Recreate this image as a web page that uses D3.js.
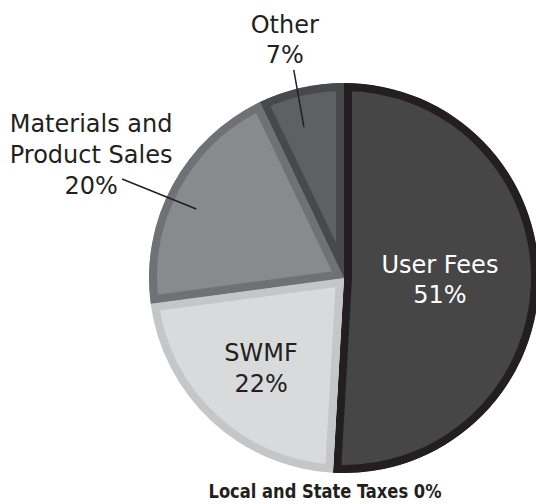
<!DOCTYPE html>
<html>
<head>
<meta charset="utf-8">
<script src="https://cdn.jsdelivr.net/npm/d3@7"></script>
<style>
  html, body { margin: 0; padding: 0; background: #fff; }
  svg { display: block; }
</style>
</head>
<body>
<svg id="chart" width="536" height="504"></svg>
<script>
// ---- data ----
const categories = ["User Fees", "SWMF", "Materials and Product Sales", "Other", "Local and State Taxes"];
const values = [50.9, 22.0, 20.0, 7.1, 0];
const percentLabels = ["51%", "22%", "20%", "7%", "0%"];

// ---- styles ----
const fills   = ["#464646", "#d9dadc", "#898a8d", "#5f6064", "#000"];
const borders = ["#231f20", "#c5c6c8", "#707174", "#48494c", "#000"];
const ink = "#231f20";

const svg = d3.select("#chart");
const cx = 344, cy = 278, R = 195;
const g = svg.append("g").attr("transform", `translate(${cx},${cy})`);

const data = categories.map((c, i) => ({ name: c, value: values[i], pct: percentLabels[i], i }));
const pie = d3.pie().sort(null).value(d => d.value).startAngle(0).endAngle(2 * Math.PI);
const arcs = pie(data);
const arc = d3.arc().innerRadius(0).outerRadius(R);

const defs = svg.append("defs");
arcs.filter(a => a.data.value > 0).forEach(a => {
  defs.append("clipPath").attr("id", "clip" + a.index)
    .append("path").attr("d", arc(a));
});

g.selectAll("path.slice")
  .data(arcs.filter(a => a.data.value > 0))
  .join("path")
  .attr("class", "slice")
  .attr("d", arc)
  .attr("fill", a => fills[a.index])
  .attr("stroke", a => borders[a.index])
  .attr("stroke-width", 16)
  .attr("stroke-linejoin", "miter")
  .attr("clip-path", a => `url(#clip${a.index})`);

const polar = (ang, r) => [r * Math.sin(ang), -r * Math.cos(ang)];
const mid = a => (a.startAngle + a.endAngle) / 2;
const deg = Math.PI / 180;

const font = "'DejaVu Sans', sans-serif";

function multiLine(sel, x, y, lines, color, lh) {
  const t = sel.append("text")
    .attr("text-anchor", "middle")
    .attr("font-family", font)
    .attr("font-size", 24)
    .attr("fill", color);
  lines.forEach((ln, k) => {
    t.append("tspan").attr("x", x).attr("y", y + k * lh).text(ln);
  });
}

// inside labels
const aUser = arcs[0];
const pU = polar(mid(aUser), 96);
multiLine(g, pU[0], pU[1] - 8, [aUser.data.name, aUser.data.pct], "#ffffff", 30);

const aSw = arcs[1];
const pS = polar(mid(aSw), 122);
multiLine(g, pS[0], pS[1] - 6, [aSw.data.name, aSw.data.pct], ink, 31);

// outside labels with leader lines
const aMat = arcs[2];
const mIn = polar(mid(aMat) - 3.4 * deg, 163);
const mOut = polar(mid(aMat) - 4.4 * deg, 243);
g.append("line")
  .attr("x1", mIn[0]).attr("y1", mIn[1]).attr("x2", mOut[0]).attr("y2", mOut[1])
  .attr("stroke", ink).attr("stroke-width", 1.5);
multiLine(g, mOut[0] - 31, mOut[1] - 47, ["Materials and", "Product Sales", aMat.data.pct], ink, 31);

const aOth = arcs[3];
const oIn = polar(mid(aOth) - 2.1 * deg, 156);
const oOut = polar(mid(aOth) - 0.8 * deg, 214);
g.append("line")
  .attr("x1", oIn[0]).attr("y1", oIn[1]).attr("x2", oOut[0]).attr("y2", oOut[1])
  .attr("stroke", ink).attr("stroke-width", 1.5);
multiLine(g, oOut[0] - 9, oOut[1] - 37, [aOth.data.name, aOth.data.pct], ink, 30);

// zero-value label below the pie
const aTax = arcs[4];
svg.append("text")
  .attr("x", 325).attr("y", 498)
  .attr("text-anchor", "middle")
  .attr("font-family", "'Liberation Sans Narrow', 'DejaVu Sans Condensed', sans-serif")
  .attr("font-weight", "bold")
  .attr("font-size", 20)
  .attr("textLength", 233)
  .attr("lengthAdjust", "spacingAndGlyphs")
  .attr("fill", ink)
  .text(`${aTax.data.name} ${aTax.data.pct}`);
</script>
</body>
</html>
